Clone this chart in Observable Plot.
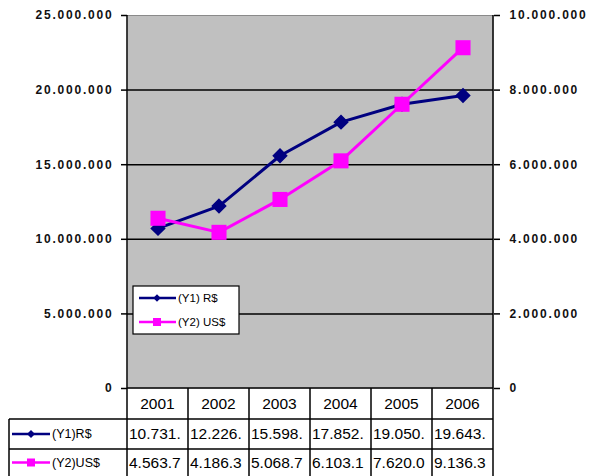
<!DOCTYPE html>
<html>
<head>
<meta charset="utf-8">
<script src="https://cdn.jsdelivr.net/npm/d3@7"></script>
<script src="https://cdn.jsdelivr.net/npm/@observablehq/plot@0.6"></script>
<style>
  html, body { margin: 0; padding: 0; background: #fff; }
  svg { display: block; }
  g[aria-label="y-axis tick label"] text { font-weight: bold !important; letter-spacing: 1.8px; }
</style>
</head>
<body>
<div id="chart"></div>
<script>
const years = ["2001", "2002", "2003", "2004", "2005", "2006"];
const y1Values = [10731000, 12226000, 15598000, 17852000, 19050000, 19643000];
const y2Values = [4563700, 4186300, 5068700, 6103100, 7620000, 9136300];
const leftTicks = [0, 5000000, 10000000, 15000000, 20000000, 25000000];
const rightTicks = [0, 2000000, 4000000, 6000000, 8000000, 10000000];
const tableNames = ["(Y1)R$", "(Y2)US$"];
const legendNames = ["(Y1) R$", "(Y2) US$"];
const colors = ["#000080", "#ff00ff"];

const leftMax = 25000000, rightMax = 10000000;
const k = leftMax / rightMax;

const loc = d3.formatLocale({decimal: ",", thousands: ".", grouping: [3], currency: ["", ""]});
const fmt = loc.format(",d");

const rows = years.map((year, i) => ({year, r: y1Values[i], u: y2Values[i] * k}));

const W = 595, H = 476;
const mL = 127, mR = 102, mT = 15, mB = 88;

const plot = Plot.plot({
  width: W, height: H,
  marginLeft: mL, marginRight: mR, marginTop: mT, marginBottom: mB,
  style: {fontFamily: "Arial, 'Liberation Sans', sans-serif", background: "#fff", overflow: "visible"},
  x: {type: "band", domain: years, padding: 0, axis: null},
  y: {domain: [0, leftMax], axis: null},
  marks: [
    Plot.frame({fill: "#c0c0c0", stroke: null}),
    Plot.ruleY(leftTicks.filter(d => d > 0 && d < leftMax), {stroke: "#000", strokeWidth: 1.5}),
    Plot.ruleY([leftMax], {stroke: "#8a8a8a", strokeWidth: 1}),
    Plot.axisY({anchor: "left", ticks: leftTicks, tickFormat: fmt, tickSize: 6, tickPadding: 8,
      fontSize: 12, fontWeight: "bold", stroke: "#000", strokeWidth: 1.5, fill: "#111"}),
    Plot.axisY({anchor: "right", ticks: rightTicks.map(d => d * k), tickFormat: d => fmt(Math.round(d / k)),
      tickSize: 6, tickPadding: 10, fontSize: 12, fontWeight: "bold", stroke: "#000", strokeWidth: 1.5, fill: "#111"}),
    Plot.line(rows, {x: "year", y: "r", stroke: colors[0], strokeWidth: 3}),
    Plot.dot(rows, {x: "year", y: "r", symbol: "diamond2", r: 6, fill: colors[0], stroke: colors[0]}),
    Plot.line(rows, {x: "year", y: "u", stroke: colors[1], strokeWidth: 3}),
    Plot.dot(rows, {x: "year", y: "u", symbol: "square", r: 8.5, fill: colors[1], stroke: null})
  ]
});

document.getElementById("chart").appendChild(plot);

const svg = d3.select(plot);
svg.selectAll('g[aria-label="y-axis tick label"]').attr("font-weight", "bold");

const xs = plot.scale("x");
const ys = plot.scale("y");
const bw = xs.bandwidth;
const x0 = xs.apply(years[0]);
const xEnd = xs.apply(years[years.length - 1]) + bw;
const yZero = ys.apply(0);
const yTop = ys.apply(leftMax);

// plot axis lines
const g = svg.append("g");
g.append("line").attr("x1", x0).attr("x2", x0).attr("y1", yTop).attr("y2", yZero).attr("stroke", "#000").attr("stroke-width", 1.5);
g.append("line").attr("x1", xEnd).attr("x2", xEnd).attr("y1", yTop).attr("y2", yZero).attr("stroke", "#000").attr("stroke-width", 1.5);

// data table
const tTop = yZero, r1 = yZero + 31, r2 = yZero + 61, tBot = H + 2, tLeft = 9;
const tg = svg.append("g").attr("stroke", "#000").attr("stroke-width", 1.5);
tg.append("line").attr("x1", x0).attr("x2", xEnd).attr("y1", tTop).attr("y2", tTop);
[r1, r2].forEach(y => tg.append("line").attr("x1", tLeft).attr("x2", xEnd).attr("y1", y).attr("y2", y));
years.forEach(yr => {
  const x = xs.apply(yr);
  tg.append("line").attr("x1", x).attr("x2", x).attr("y1", tTop).attr("y2", tBot);
});
tg.append("line").attr("x1", xEnd).attr("x2", xEnd).attr("y1", tTop).attr("y2", tBot);
tg.append("line").attr("x1", tLeft).attr("x2", tLeft).attr("y1", r1).attr("y2", tBot);

const txt = svg.append("g").attr("font-family", "Arial, 'Liberation Sans', sans-serif").attr("fill", "#000");
years.forEach(yr => {
  txt.append("text").attr("x", xs.apply(yr) + bw / 2).attr("y", (tTop + r1) / 2 + 1)
    .attr("text-anchor", "middle").attr("dominant-baseline", "middle").attr("font-size", 15.5).text(yr);
});
const rowY = [(r1 + r2) / 2 + 1, (r2 + H) / 2 + 1];
[y1Values, y2Values].forEach((vals, s) => {
  vals.forEach((v, i) => {
    txt.append("text").attr("x", xs.apply(years[i]) + 2).attr("y", rowY[s]).attr("text-anchor", "start")
      .attr("dominant-baseline", "middle").attr("font-size", 15.5).text(fmt(v).slice(0, 7));
  });
  // key
  const ky = rowY[s] - 1;
  txt.append("line").attr("x1", 12).attr("x2", 50).attr("y1", ky).attr("y2", ky).attr("stroke", colors[s]).attr("stroke-width", 2.5);
  if (s === 0) {
    txt.append("path").attr("d", d3.symbol(d3.symbolDiamond2, 40)()).attr("transform", `translate(31,${ky})`).attr("fill", colors[s]);
  } else {
    txt.append("rect").attr("x", 27).attr("y", ky - 4).attr("width", 8).attr("height", 8).attr("fill", colors[s]);
  }
  txt.append("text").attr("x", 52).attr("y", rowY[s]).attr("text-anchor", "start").attr("dominant-baseline", "middle").attr("font-size", 12.5).text(tableNames[s]);
});

// legend box inside plot
const lx = 133, ly = 286, lw = 106, lh = 48;
const lg = svg.append("g").attr("font-family", "Arial, 'Liberation Sans', sans-serif");
lg.append("rect").attr("x", lx).attr("y", ly).attr("width", lw).attr("height", lh).attr("fill", "#fff").attr("stroke", "#000").attr("stroke-width", 1.2);
legendNames.forEach((name, s) => {
  const yy = ly + 12 + s * 24;
  lg.append("line").attr("x1", lx + 6).attr("x2", lx + 43).attr("y1", yy).attr("y2", yy).attr("stroke", colors[s]).attr("stroke-width", 2.5);
  if (s === 0) {
    lg.append("path").attr("d", d3.symbol(d3.symbolDiamond2, 36)()).attr("transform", `translate(${lx + 24},${yy})`).attr("fill", colors[s]);
  } else {
    lg.append("rect").attr("x", lx + 20).attr("y", yy - 4).attr("width", 8).attr("height", 8).attr("fill", colors[s]);
  }
  lg.append("text").attr("x", lx + 45).attr("y", yy + 1).attr("text-anchor", "start").attr("dominant-baseline", "middle").attr("font-size", 11.5).attr("fill", "#000").text(name);
});
</script>
</body>
</html>
